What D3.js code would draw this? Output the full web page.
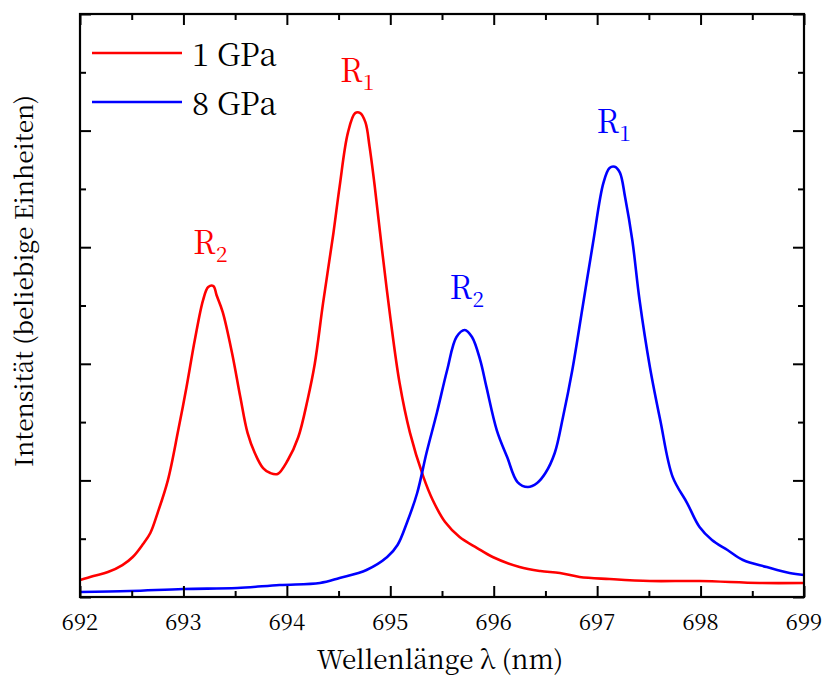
<!DOCTYPE html>
<html><head><meta charset="utf-8">
<script src="https://cdn.jsdelivr.net/npm/d3@7"></script>
<style>body{margin:0;background:#fff}svg{display:block}</style>
</head><body>
<svg id="c" width="822" height="684"></svg>
<script>
const xTicks = [692,693,694,695,696,697,698,699];
const series = ["1 GPa","8 GPa"];
const colors = ["#ff0000","#0000ff"];
const red = [[692.00,0.146],[692.13,0.180],[692.27,0.214],[692.41,0.274],[692.51,0.343],[692.61,0.455],[692.68,0.549],[692.75,0.720],[692.85,1.003],[692.95,1.432],[693.03,1.801],[693.11,2.204],[693.19,2.547],[693.24,2.659],[693.29,2.667],[693.32,2.590],[693.38,2.444],[693.47,2.093],[693.55,1.715],[693.62,1.407],[693.69,1.235],[693.77,1.106],[693.84,1.063],[693.91,1.055],[694.01,1.175],[694.11,1.370],[694.20,1.690],[694.27,2.000],[694.35,2.520],[694.45,3.120],[694.51,3.520],[694.59,3.980],[694.66,4.150],[694.71,4.150],[694.76,4.070],[694.80,3.860],[694.85,3.520],[694.92,2.980],[695.00,2.400],[695.09,1.835],[695.19,1.410],[695.32,1.030],[695.41,0.832],[695.53,0.643],[695.67,0.515],[695.84,0.420],[695.99,0.343],[696.25,0.257],[696.45,0.223],[696.64,0.206],[696.83,0.172],[697.12,0.154],[697.51,0.137],[697.99,0.137],[698.57,0.120],[699.00,0.120]];
const blue = [[692.00,0.043],[692.48,0.051],[693.00,0.069],[693.52,0.077],[693.93,0.103],[694.32,0.120],[694.51,0.163],[694.77,0.232],[694.97,0.343],[695.07,0.446],[695.16,0.635],[695.26,0.892],[695.35,1.235],[695.45,1.578],[695.55,1.947],[695.64,2.230],[695.72,2.290],[695.79,2.230],[695.87,2.030],[695.93,1.800],[696.03,1.430],[696.13,1.200],[696.23,0.986],[696.33,0.943],[696.42,0.978],[696.50,1.063],[696.59,1.235],[696.67,1.544],[696.76,1.947],[696.86,2.490],[696.96,3.036],[697.06,3.550],[697.12,3.680],[697.17,3.690],[697.22,3.640],[697.27,3.430],[697.34,3.060],[697.41,2.547],[697.51,1.973],[697.61,1.518],[697.73,1.030],[697.87,0.806],[697.99,0.600],[698.11,0.489],[698.26,0.403],[698.41,0.317],[698.64,0.257],[698.86,0.206],[699.00,0.189]];
const peakLabels = [
  {s:0, sub:"1", x:694.68, y:4.42},
  {s:0, sub:"2", x:693.26, y:2.94},
  {s:1, sub:"1", x:697.16, y:3.98},
  {s:1, sub:"2", x:695.74, y:2.56}
];

const FONT = '"Noto Serif CJK SC", "Liberation Serif", serif';
const svg = d3.select("#c");
const L=80, R=804, T=14, B=597;
const x = d3.scaleLinear().domain([692,699]).range([L,R]);
const y = d3.scaleLinear().domain([0,5]).range([B,T]);

const minorX = d3.range(692,699.01,0.5);
const majorY = d3.range(0,5.01,1), minorY = d3.range(0.5,5,1);

const g = svg.append("g");
const line = d3.line().x(d=>x(d[0])).y(d=>y(d[1])).curve(d3.curveCatmullRom.alpha(0.5));
[red,blue].forEach((d,i)=>{
  g.append("path").datum(d).attr("d",line).attr("fill","none")
   .attr("stroke",colors[i]).attr("stroke-width",2.6).attr("stroke-linejoin","round");
});

function ax(axisFn, scale, vals, size, tr){
  const a = g.append("g").attr("transform",tr).call(axisFn(scale).tickValues(vals).tickSize(size).tickFormat(""));
  a.selectAll("path").remove();
  a.selectAll("line").attr("stroke","#000").attr("stroke-width",2);
}
ax(d3.axisTop, x, xTicks, 11, `translate(0,${B})`);
ax(d3.axisTop, x, minorX.filter(v=>!xTicks.includes(v)), 6, `translate(0,${B})`);
ax(d3.axisBottom, x, xTicks, 11, `translate(0,${T})`);
ax(d3.axisBottom, x, minorX.filter(v=>!xTicks.includes(v)), 6, `translate(0,${T})`);
ax(d3.axisRight, y, majorY, 11, `translate(${L},0)`);
ax(d3.axisRight, y, minorY, 6, `translate(${L},0)`);
ax(d3.axisLeft, y, majorY, 11, `translate(${R},0)`);
ax(d3.axisLeft, y, minorY, 6, `translate(${R},0)`);
g.append("rect").attr("x",L).attr("y",T).attr("width",R-L).attr("height",B-T)
 .attr("fill","none").attr("stroke","#000").attr("stroke-width",2.2);

g.selectAll(".xl").data(xTicks).join("text").style("font-family",FONT).attr("x",d=>x(d)).attr("y",630)
 .attr("text-anchor","middle").style("font-size","22px").text(d=>d);

svg.append("text").style("font-family",FONT).attr("x",440).attr("y",669).attr("text-anchor","middle")
 .style("font-size","26px").text("Wellenlänge λ (nm)");
svg.append("text").style("font-family",FONT).attr("transform",`translate(33,281) rotate(-90)`)
 .attr("text-anchor","middle").style("font-size","24.5px").text("Intensität (beliebige Einheiten)");

series.forEach((s,i)=>{
  const yy = 53 + i*49;
  svg.append("line").attr("x1",92).attr("x2",182).attr("y1",yy).attr("y2",yy)
   .attr("stroke",colors[i]).attr("stroke-width",2.6);
  svg.append("text").style("font-family",FONT).attr("x",192).attr("y",yy+13).style("font-size","31px").text(s);
});

peakLabels.forEach(p=>{
  const t = svg.append("text").style("font-family",FONT).attr("x",x(p.x)).attr("y",y(p.y)).attr("text-anchor","middle")
    .attr("fill",colors[p.s]).style("font-size","32px");
  t.append("tspan").text("R");
  t.append("tspan").style("font-size","21px").attr("dy",8).text(p.sub);
});
</script>
</body></html>
